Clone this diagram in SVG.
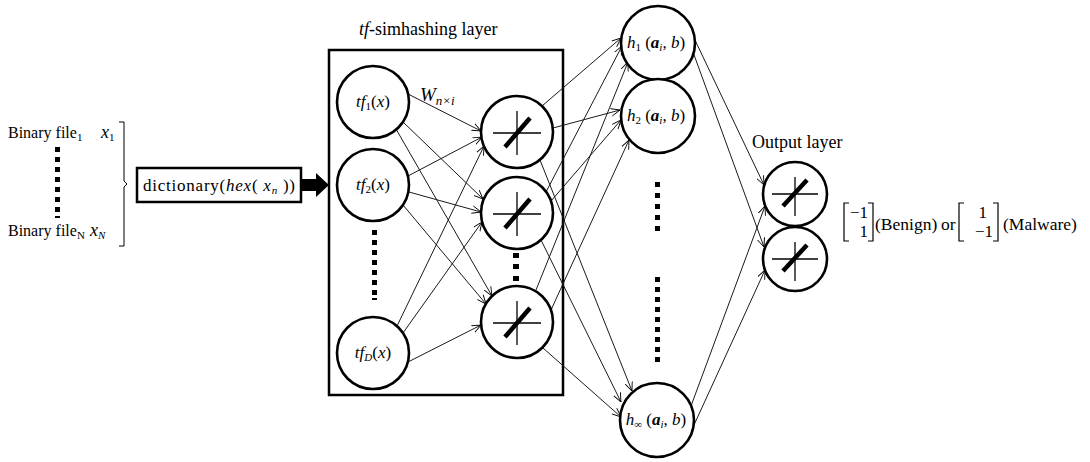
<svg xmlns="http://www.w3.org/2000/svg" width="1090" height="462" viewBox="0 0 1090 462">
<defs>
<style>
.n{fill:#fff;stroke:#000;stroke-width:2.6}
.c{stroke:#1a1a1a;stroke-width:1;fill:none;marker-end:url(#ah)}
.t{font-family:"Liberation Serif",serif;font-size:16px;fill:#000}
.m{font-family:"Liberation Serif",serif;font-style:italic;font-size:17px;fill:#000}
.th{stroke:#000;stroke-width:1.3}
.tk{stroke:#000;stroke-width:4.5}
.box{fill:#fff;stroke:#000;stroke-width:2.5}
.sub{font-size:11px}
</style>
<marker id="ah" viewBox="0 0 10 10" refX="10" refY="5" markerWidth="9" markerHeight="9" orient="auto" markerUnits="userSpaceOnUse">
<path d="M0,0.8 L10,5 L0,9.2" fill="none" stroke="#000" stroke-width="1"/>
</marker>
<g id="sym">
<line class="th" x1="-24" y1="1" x2="24" y2="1"/>
<line class="th" x1="0" y1="-21" x2="0" y2="23"/>
<line class="tk" x1="-12" y1="15" x2="13" y2="-14"/>
</g>
<g id="osym">
<line class="th" x1="-23" y1="-4" x2="23" y2="-4"/>
<line class="th" x1="0" y1="-21" x2="0" y2="18"/>
<line class="tk" x1="-12" y1="8" x2="12" y2="-18"/>
</g>
</defs>
<rect width="1090" height="462" fill="#fff"/>

<g id="input">
<text class="t" x="8" y="138">Binary file<tspan class="sub" dy="3">1</tspan></text>
<text class="m" x="101" y="138" style="font-size:18px">x<tspan class="sub" dy="3" style="font-style:normal">1</tspan></text>
<g fill="#000">
<rect x="55" y="147" width="5" height="5"/><rect x="55" y="157" width="5" height="5"/><rect x="55" y="167" width="5" height="5"/><rect x="55" y="177" width="5" height="5"/><rect x="55" y="187" width="5" height="5"/><rect x="55" y="197" width="5" height="5"/><rect x="55" y="207" width="5" height="5"/><rect x="55" y="216" width="5" height="2"/>
</g>
<text class="t" x="8" y="236">Binary file<tspan class="sub" dy="3">N</tspan></text>
<text class="m" x="90" y="236" style="font-size:18px">x<tspan class="sub" dy="3">N</tspan></text>
<path d="M119,122 H124 V181 L127,184 L124,187 V246 H119" fill="none" stroke="#000" stroke-width="1"/>
</g>

<g id="dictionary">
<rect class="box" x="137" y="168" width="164" height="34"/>
<text class="t" x="143" y="191" style="font-size:17px" textLength="152" lengthAdjust="spacing">dictionary(<tspan style="font-style:italic">hex</tspan>( <tspan style="font-style:italic">x<tspan class="sub" dy="3">n</tspan></tspan><tspan dy="-3"> ))</tspan></text>
</g>
<polygon points="302,179 316,179 316,173 329,185 316,197 316,191 302,191" fill="#000"/>

<g id="tf-layer">
<rect fill="none" stroke="#000" stroke-width="2.5" x="329" y="50" width="234" height="345"/>
<text class="t" x="359" y="35" style="font-size:18px"><tspan style="font-style:italic">tf</tspan>-simhashing layer</text>
<text class="m" x="420" y="101" style="font-size:19px">W<tspan style="font-size:13px" dy="4">n×i</tspan></text>
</g>

<g id="connectors">
<line class="c" x1="408" y1="94" x2="481" y2="131"/>
<line class="c" x1="403" y1="122" x2="483" y2="199"/>
<line class="c" x1="396" y1="129" x2="492" y2="296"/>
<line class="c" x1="408" y1="176" x2="482" y2="137"/>
<line class="c" x1="409" y1="192" x2="481" y2="212"/>
<line class="c" x1="403" y1="205" x2="486" y2="304"/>
<line class="c" x1="397" y1="326" x2="484" y2="146"/>
<line class="c" x1="403" y1="333" x2="482" y2="222"/>
<line class="c" x1="408" y1="362" x2="481" y2="325"/>

<line class="c" x1="542" y1="106" x2="621" y2="38"/>
<line class="c" x1="553" y1="128" x2="620" y2="110"/>
<line class="c" x1="540" y1="160" x2="632" y2="391"/>
<line class="c" x1="546" y1="192" x2="622" y2="46"/>
<line class="c" x1="551" y1="201" x2="621" y2="120"/>
<line class="c" x1="541" y1="240" x2="621" y2="402"/>
<line class="c" x1="536" y1="290" x2="628" y2="62"/>
<line class="c" x1="551" y1="310" x2="629" y2="140"/>
<line class="c" x1="543" y1="348" x2="621" y2="417"/>

<line class="c" x1="694" y1="38" x2="764" y2="185"/>
<line class="c" x1="693" y1="52" x2="764" y2="247"/>
<line class="c" x1="691" y1="406" x2="765" y2="206"/>
<line class="c" x1="694" y1="425" x2="765" y2="270"/>
</g>

<g id="tf1">
<circle class="n" cx="373" cy="102" r="36"/>
<text class="m" x="373" y="107" text-anchor="middle">tf<tspan class="sub" dy="3" style="font-style:normal">1</tspan><tspan dy="-3" style="font-style:normal">(</tspan>x<tspan style="font-style:normal">)</tspan></text>
</g>
<g id="tf2">
<circle class="n" cx="373" cy="185" r="36"/>
<text class="m" x="373" y="190" text-anchor="middle">tf<tspan class="sub" dy="3" style="font-style:normal">2</tspan><tspan dy="-3" style="font-style:normal">(</tspan>x<tspan style="font-style:normal">)</tspan></text>
</g>
<g id="tf-dots" fill="#000">
<rect x="372" y="230" width="5" height="5"/><rect x="372" y="240" width="5" height="5"/><rect x="372" y="250" width="5" height="5"/><rect x="372" y="260" width="5" height="5"/><rect x="372" y="270" width="5" height="5"/><rect x="372" y="280" width="5" height="5"/><rect x="372" y="290" width="5" height="5"/><rect x="372" y="298" width="5" height="2"/>
</g>
<g id="tfD">
<circle class="n" cx="373" cy="353" r="36"/>
<text class="m" x="373" y="358" text-anchor="middle">tf<tspan class="sub" dy="3">D</tspan><tspan dy="-3" style="font-style:normal">(</tspan>x<tspan style="font-style:normal">)</tspan></text>
</g>

<g id="s1">
<circle class="n" cx="517" cy="132" r="36"/>
<use href="#sym" x="517" y="132"/>
</g>
<g id="s2">
<circle class="n" cx="517" cy="213" r="36"/>
<use href="#sym" x="517" y="213"/>
</g>
<g id="s-dots" fill="#000">
<rect x="513" y="253" width="6" height="5"/><rect x="513" y="264" width="6" height="5"/><rect x="513" y="276" width="6" height="5"/>
</g>
<g id="s3">
<circle class="n" cx="517" cy="322" r="36"/>
<use href="#sym" x="517" y="322"/>
</g>

<g id="h1">
<circle class="n" cx="658" cy="43" r="37"/>
<text class="m" x="656" y="48" text-anchor="middle">h<tspan class="sub" dy="3" style="font-style:normal">1</tspan><tspan dy="-3" style="font-style:normal"> (</tspan><tspan style="font-weight:bold">a</tspan><tspan class="sub" dy="3">i</tspan><tspan dy="-3" style="font-style:normal">, </tspan>b<tspan style="font-style:normal">)</tspan></text>
</g>
<g id="h2">
<circle class="n" cx="658" cy="116" r="37"/>
<text class="m" x="656" y="121" text-anchor="middle">h<tspan class="sub" dy="3" style="font-style:normal">2</tspan><tspan dy="-3" style="font-style:normal"> (</tspan><tspan style="font-weight:bold">a</tspan><tspan class="sub" dy="3">i</tspan><tspan dy="-3" style="font-style:normal">, </tspan>b<tspan style="font-style:normal">)</tspan></text>
</g>
<g id="h-dots" fill="#000">
<rect x="655" y="182" width="5" height="5"/><rect x="655" y="193" width="5" height="5"/><rect x="655" y="204" width="5" height="5"/><rect x="655" y="215" width="5" height="5"/><rect x="655" y="226" width="5" height="5"/>
<rect x="655" y="277" width="5" height="5"/><rect x="655" y="287" width="5" height="5"/><rect x="655" y="297" width="5" height="5"/><rect x="655" y="307" width="5" height="5"/><rect x="655" y="317" width="5" height="5"/><rect x="655" y="327" width="5" height="5"/><rect x="655" y="337" width="5" height="5"/><rect x="655" y="347" width="5" height="5"/><rect x="655" y="357" width="5" height="5"/>
</g>
<g id="hinf">
<circle class="n" cx="657" cy="420" r="37"/>
<text class="m" x="656" y="425" text-anchor="middle">h<tspan class="sub" dy="3" style="font-style:normal">∞</tspan><tspan dy="-3" style="font-style:normal"> (</tspan><tspan style="font-weight:bold">a</tspan><tspan class="sub" dy="3">i</tspan><tspan dy="-3" style="font-style:normal">, </tspan>b<tspan style="font-style:normal">)</tspan></text>
</g>

<g id="output-layer">
<text class="t" x="752" y="148" style="font-size:18px">Output layer</text>
</g>
<g id="o1">
<circle class="n" cx="795" cy="194" r="32"/>
<use href="#osym" x="795" y="198"/>
</g>
<g id="o2">
<circle class="n" cx="795" cy="259" r="32"/>
<use href="#osym" x="795" y="263"/>
</g>

<g id="result">
<path d="M849,203 H844 V241 H849 M868,203 H873 V241 H868" fill="none" stroke="#000" stroke-width="1.2"/>
<text class="t" x="868" y="218" text-anchor="end" style="font-size:17px">−1</text>
<text class="t" x="868" y="237" text-anchor="end" style="font-size:17px">1</text>
<text class="t" x="875" y="230" style="font-size:17.5px">(Benign)</text>
<text class="t" x="941" y="230" style="font-size:17.5px">or</text>
<path d="M964,203 H959 V241 H964 M993,203 H998 V241 H993" fill="none" stroke="#000" stroke-width="1.2"/>
<text class="t" x="987" y="218" text-anchor="end" style="font-size:17px">1</text>
<text class="t" x="993" y="237" text-anchor="end" style="font-size:17px">−1</text>
<text class="t" x="1003" y="230" style="font-size:17.5px">(Malware)</text>
</g>
</svg>
